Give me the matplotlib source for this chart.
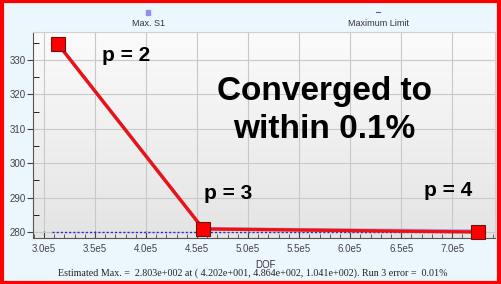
import numpy as np
import matplotlib.pyplot as plt
from matplotlib.patches import Rectangle
from matplotlib.ticker import MultipleLocator, FuncFormatter

# data
dof = [3.137e5, 4.56e5, 7.25e5]
max_s1 = [334.6, 280.9, 280.3]
converged = [334.6, 280.9, 280.0]
limit_dof = [3.08e5, 7.25e5]
limit_val = [280.0, 280.0]

p_labels = ["p = 2", "p = 3", "p = 4"]
p_pos = [(3.80e5, 331.4), (4.80e5, 291.3), (6.96e5, 292.2)]

footer = ("Estimated Max. =  2.803e+002 at ( 4.202e+001, 4.864e+002, "
          "1.041e+002). Run 3 error =  0.01%")

plt.rcParams['font.family'] = ['Liberation Sans', 'DejaVu Sans']

fig = plt.figure(figsize=(5.01, 2.84), dpi=100)
fig.patch.set_facecolor('#ecf6fd')
ax = fig.add_axes([33 / 501, 1 - 238 / 284, 462 / 501, 206 / 284])

# soft grey gradient behind the plot
grad = np.linspace(0, 1, 256).reshape(-1, 1)
ax.imshow(grad, extent=[0, 1, 0, 1], transform=ax.transAxes, aspect='auto',
          cmap=plt.matplotlib.colors.LinearSegmentedColormap.from_list(
              'bg', ['#e4e4e4', '#fbfbfb']), origin='lower', zorder=0)

ax.set_xlim(2.892e5, 7.42e5)
ax.set_ylim(278.26, 338.1)

ax.grid(True, color='#c8c8c8', lw=0.8, zorder=1)
ax.xaxis.set_major_locator(MultipleLocator(0.5e5))
ax.xaxis.set_minor_locator(MultipleLocator(0.1e5))
ax.yaxis.set_major_locator(MultipleLocator(10))
ax.yaxis.set_minor_locator(MultipleLocator(5))
ax.xaxis.set_major_formatter(FuncFormatter(lambda v, _: f"{v / 1e5:.1f}e5"))
ax.tick_params(axis='x', which='both', direction='in', labelsize=7,
               colors='#444444', length=5, pad=4)
ax.tick_params(axis='x', which='minor', length=3)
ax.tick_params(axis='y', which='major', direction='out', labelsize=7,
               colors='#444444', length=4, pad=1)
ax.tick_params(axis='y', which='minor', direction='in', length=4)
for side in ['left', 'bottom']:
    ax.spines[side].set_color('#555555')
for side in ['top', 'right']:
    ax.spines[side].set_color('#d0d0d0')

ax.plot(limit_dof, limit_val, color='#2a2ad0', lw=1.0, ls=(0, (1.5, 1.5)), zorder=3)
ax.plot(dof, max_s1, color='#a8a8ee', lw=2.5, zorder=3)
ax.plot(dof, converged, color='#ee1111', lw=2.4, marker='s', markersize=9.5,
        markerfacecolor='#ff0000', markeredgecolor='#701010',
        markeredgewidth=0.8, zorder=4, clip_on=False)

for lbl, (x, y) in zip(p_labels, p_pos):
    ax.text(x, y, lbl, fontsize=15, fontweight='bold', ha='center',
            va='center', zorder=5)
ax.text(5.745e5, 315.3, "Converged to\nwithin 0.1%", fontsize=24,
        fontweight='bold', ha='center', va='center', linespacing=1.33, zorder=5)

ax.set_xlabel("DOF", fontsize=7, color='#333333', labelpad=1)
ax.xaxis.set_label_coords((265 - 33) / 462, -0.105)

# legend at top
fig.text(148 / 501, 1 - 24 / 284, "Max. S1", fontsize=6.5, ha='center',
         va='center', color='#333333')
fig.add_artist(Rectangle((146 / 501, 1 - 15 / 284), 4 / 501, 5 / 284,
                         transform=fig.transFigure, color='#8f8ff5'))
fig.text(378 / 501, 1 - 24 / 284, "Maximum Limit", fontsize=6.5, ha='center',
         va='center', color='#333333')
fig.add_artist(plt.Line2D([376 / 501, 380 / 501], [1 - 12 / 284] * 2,
                          transform=fig.transFigure, color='#5555cc', lw=0.8))

fig.text(253 / 501, 1 - 273 / 284, footer, fontsize=7.2,
         family=['Liberation Serif', 'DejaVu Serif'], ha='center',
         va='center', color='#222222')

fig.add_artist(Rectangle((0.003, 0.005), 0.994, 0.99, transform=fig.transFigure,
                         fill=False, edgecolor='#ff0000', lw=3))

fig.savefig('out.png', dpi=100, facecolor=fig.get_facecolor())
